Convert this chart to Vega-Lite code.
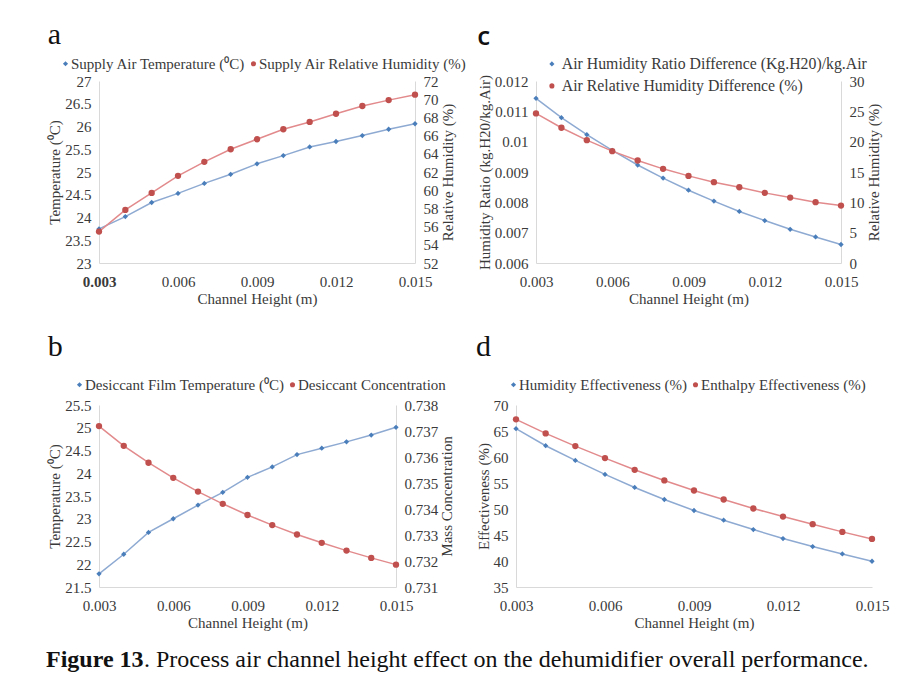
{
  "$schema": "https://vega.github.io/schema/vega-lite/v6.json",
  "background": "white",
  "padding": {"left": 46, "top": 20, "right": 10, "bottom": 4},
  "datasets": {
    "a": [
      {"h": 0.003, "t": 23.75, "rh": 55.45},
      {"h": 0.004, "t": 24.02, "rh": 57.83},
      {"h": 0.005, "t": 24.33, "rh": 59.7},
      {"h": 0.006, "t": 24.53, "rh": 61.58},
      {"h": 0.007, "t": 24.75, "rh": 63.12},
      {"h": 0.008, "t": 24.95, "rh": 64.5},
      {"h": 0.009, "t": 25.18, "rh": 65.6},
      {"h": 0.010, "t": 25.36, "rh": 66.7},
      {"h": 0.011, "t": 25.55, "rh": 67.5},
      {"h": 0.012, "t": 25.67, "rh": 68.4},
      {"h": 0.013, "t": 25.8, "rh": 69.25},
      {"h": 0.014, "t": 25.94, "rh": 69.9},
      {"h": 0.015, "t": 26.06, "rh": 70.5}
    ],
    "b": [
      {"h": 0.003, "t": 21.79, "c": 0.73719},
      {"h": 0.004, "t": 22.22, "c": 0.73643},
      {"h": 0.005, "t": 22.7, "c": 0.73578},
      {"h": 0.006, "t": 23.0, "c": 0.7352},
      {"h": 0.007, "t": 23.3, "c": 0.73467},
      {"h": 0.008, "t": 23.58, "c": 0.7342},
      {"h": 0.009, "t": 23.91, "c": 0.73377},
      {"h": 0.010, "t": 24.14, "c": 0.73338},
      {"h": 0.011, "t": 24.41, "c": 0.73302},
      {"h": 0.012, "t": 24.55, "c": 0.7327},
      {"h": 0.013, "t": 24.69, "c": 0.7324},
      {"h": 0.014, "t": 24.84, "c": 0.73212},
      {"h": 0.015, "t": 25.01, "c": 0.73186}
    ],
    "c": [
      {"h": 0.003, "w": 0.01143, "rh": 24.66},
      {"h": 0.004, "w": 0.01079, "rh": 22.29},
      {"h": 0.005, "w": 0.01023, "rh": 20.25},
      {"h": 0.006, "w": 0.00971, "rh": 18.44},
      {"h": 0.007, "w": 0.00923, "rh": 16.9},
      {"h": 0.008, "w": 0.0088, "rh": 15.52},
      {"h": 0.009, "w": 0.0084, "rh": 14.36},
      {"h": 0.010, "w": 0.00804, "rh": 13.32},
      {"h": 0.011, "w": 0.0077, "rh": 12.49},
      {"h": 0.012, "w": 0.0074, "rh": 11.56},
      {"h": 0.013, "w": 0.00711, "rh": 10.79},
      {"h": 0.014, "w": 0.00686, "rh": 10.02},
      {"h": 0.015, "w": 0.00661, "rh": 9.47}
    ],
    "d": [
      {"h": 0.003, "hum": 65.44, "ent": 67.24},
      {"h": 0.004, "hum": 62.17, "ent": 64.54},
      {"h": 0.005, "hum": 59.34, "ent": 62.1},
      {"h": 0.006, "hum": 56.65, "ent": 59.79},
      {"h": 0.007, "hum": 54.14, "ent": 57.54},
      {"h": 0.008, "hum": 51.83, "ent": 55.49},
      {"h": 0.009, "hum": 49.71, "ent": 53.56},
      {"h": 0.010, "hum": 47.85, "ent": 51.83},
      {"h": 0.011, "hum": 46.05, "ent": 50.1},
      {"h": 0.012, "hum": 44.31, "ent": 48.55},
      {"h": 0.013, "hum": 42.77, "ent": 47.08},
      {"h": 0.014, "hum": 41.36, "ent": 45.6},
      {"h": 0.015, "hum": 39.95, "ent": 44.25}
    ]
  },
  "vconcat": [
    {
      "vconcat": [
        {
          "hconcat": [
            {
              "title": {"text": "a", "offset": 6},
              "width": 316,
              "height": 182,
              "data": {"name": "a"},
              "encoding": {
                "x": {"field": "h", "type": "quantitative", "title": "Channel Height (m)",
                  "scale": {"domain": [0.003, 0.015], "nice": false, "zero": false},
                  "axis": {"values": [0.003, 0.006, 0.009, 0.012, 0.015], "format": ".3f",
                    "labelFontWeight": {"condition": {"test": "datum.value < 0.0035", "value": "bold"}, "value": "normal"}}}
              },
              "layer": [
                {
                  "encoding": {"y": {"field": "t", "type": "quantitative", "title": "Temperature (⁰C)",
                    "scale": {"domain": [23, 27], "zero": false, "nice": false},
                    "axis": {"values": [23, 23.5, 24, 24.5, 25, 25.5, 26, 26.5, 27], "format": "~g"}}},
                  "layer": [
                    {"mark": {"type": "line", "color": "#8eaad2", "strokeWidth": 1.5}},
                    {"mark": {"type": "point", "filled": true, "size": 28, "opacity": 1},
                      "encoding": {
                        "color": {"datum": "Supply Air Temperature (⁰C)", "type": "nominal",
                          "scale": {"domain": ["Supply Air Temperature (⁰C)", "Supply Air Relative Humidity (%)"], "range": ["#4a7ebb", "#c0504d"]},
                          "legend": {"orient": "none", "legendX": -41, "legendY": -25, "direction": "horizontal", "title": null}},
                        "shape": {"datum": "Supply Air Temperature (⁰C)", "type": "nominal",
                          "scale": {"domain": ["Supply Air Temperature (⁰C)", "Supply Air Relative Humidity (%)"], "range": ["diamond", "circle"]},
                          "legend": {"orient": "none", "legendX": -41, "legendY": -25, "direction": "horizontal", "title": null}}
                      }}
                  ]
                },
                {
                  "encoding": {"y": {"field": "rh", "type": "quantitative", "title": "Relative Humidity (%)",
                    "scale": {"domain": [52, 72], "zero": false, "nice": false},
                    "axis": {"orient": "right", "values": [52, 54, 56, 58, 60, 62, 64, 66, 68, 70, 72], "titleAngle": 270, "titleBaseline": "top"}}},
                  "layer": [
                    {"mark": {"type": "line", "color": "#e28a8c", "strokeWidth": 1.5}},
                    {"mark": {"type": "point", "filled": true, "size": 40, "opacity": 1},
                      "encoding": {
                        "color": {"datum": "Supply Air Relative Humidity (%)", "type": "nominal"},
                        "shape": {"datum": "Supply Air Relative Humidity (%)", "type": "nominal"}
                      }}
                  ]
                }
              ],
              "resolve": {"scale": {"y": "independent"}}
            },
            {
              "title": {"text": "c", "font": "Open Sans", "fontWeight": 600, "fontSize": 26, "offset": 6},
              "width": 305,
              "height": 182,
              "data": {"name": "c"},
              "encoding": {
                "x": {"field": "h", "type": "quantitative", "title": "Channel Height (m)",
                  "scale": {"domain": [0.003, 0.015], "nice": false, "zero": false},
                  "axis": {"values": [0.003, 0.006, 0.009, 0.012, 0.015], "format": ".3f"}}
              },
              "layer": [
                {
                  "encoding": {"y": {"field": "w", "type": "quantitative", "title": "Humidity Ratio (kg.H20/kg.Air)",
                    "scale": {"domain": [0.006, 0.012], "zero": false, "nice": false},
                    "axis": {"values": [0.006, 0.007, 0.008, 0.009, 0.01, 0.011, 0.012], "format": "~g"}}},
                  "layer": [
                    {"mark": {"type": "line", "color": "#8eaad2", "strokeWidth": 1.5}},
                    {"mark": {"type": "point", "filled": true, "size": 28, "opacity": 1},
                      "encoding": {
                        "color": {"datum": "Air Humidity Ratio Difference (Kg.H20)/kg.Air", "type": "nominal",
                          "scale": {"domain": ["Air Humidity Ratio Difference (Kg.H20)/kg.Air", "Air Relative Humidity Difference (%)"], "range": ["#4a7ebb", "#c0504d"]},
                          "legend": {"orient": "none", "legendX": 8, "legendY": -25, "direction": "vertical", "title": null, "labelFontSize": 15.8, "rowPadding": 5, "labelOffset": 2}},
                        "shape": {"datum": "Air Humidity Ratio Difference (Kg.H20)/kg.Air", "type": "nominal",
                          "scale": {"domain": ["Air Humidity Ratio Difference (Kg.H20)/kg.Air", "Air Relative Humidity Difference (%)"], "range": ["diamond", "circle"]},
                          "legend": {"orient": "none", "legendX": 8, "legendY": -25, "direction": "vertical", "title": null, "labelFontSize": 15.8, "rowPadding": 5, "labelOffset": 2}}
                      }}
                  ]
                },
                {
                  "encoding": {"y": {"field": "rh", "type": "quantitative", "title": "Relative Humidity (%)",
                    "scale": {"domain": [0, 30], "zero": false, "nice": false},
                    "axis": {"orient": "right", "values": [0, 5, 10, 15, 20, 25, 30], "titleAngle": 270, "titleBaseline": "top"}}},
                  "layer": [
                    {"mark": {"type": "line", "color": "#e28a8c", "strokeWidth": 1.5}},
                    {"mark": {"type": "point", "filled": true, "size": 40, "opacity": 1},
                      "encoding": {
                        "color": {"datum": "Air Relative Humidity Difference (%)", "type": "nominal"},
                        "shape": {"datum": "Air Relative Humidity Difference (%)", "type": "nominal"}
                      }}
                  ]
                }
              ],
              "resolve": {"scale": {"y": "independent"}}
            }
          ],
          "spacing": 121,
          "bounds": "flush",
          "resolve": {"scale": {"color": "independent", "shape": "independent"}}
        },
        {
          "hconcat": [
            {
              "title": {"text": "b", "offset": 15},
              "width": 297,
              "height": 182,
              "data": {"name": "b"},
              "encoding": {
                "x": {"field": "h", "type": "quantitative", "title": "Channel Height (m)",
                  "scale": {"domain": [0.003, 0.015], "nice": false, "zero": false},
                  "axis": {"values": [0.003, 0.006, 0.009, 0.012, 0.015], "format": ".3f"}}
              },
              "layer": [
                {
                  "encoding": {"y": {"field": "t", "type": "quantitative", "title": "Temperature (⁰C)",
                    "scale": {"domain": [21.5, 25.5], "zero": false, "nice": false},
                    "axis": {"values": [21.5, 22, 22.5, 23, 23.5, 24, 24.5, 25, 25.5], "format": "~g"}}},
                  "layer": [
                    {"mark": {"type": "line", "color": "#8eaad2", "strokeWidth": 1.5}},
                    {"mark": {"type": "point", "filled": true, "size": 28, "opacity": 1},
                      "encoding": {
                        "color": {"datum": "Desiccant Film Temperature (⁰C)", "type": "nominal",
                          "scale": {"domain": ["Desiccant Film Temperature (⁰C)", "Desiccant Concentration"], "range": ["#4a7ebb", "#c0504d"]},
                          "legend": {"orient": "none", "legendX": -27, "legendY": -28, "direction": "horizontal", "title": null}},
                        "shape": {"datum": "Desiccant Film Temperature (⁰C)", "type": "nominal",
                          "scale": {"domain": ["Desiccant Film Temperature (⁰C)", "Desiccant Concentration"], "range": ["diamond", "circle"]},
                          "legend": {"orient": "none", "legendX": -27, "legendY": -28, "direction": "horizontal", "title": null}}
                      }}
                  ]
                },
                {
                  "encoding": {"y": {"field": "c", "type": "quantitative", "title": "Mass Concentration",
                    "scale": {"domain": [0.731, 0.738], "zero": false, "nice": false},
                    "axis": {"orient": "right", "values": [0.731, 0.732, 0.733, 0.734, 0.735, 0.736, 0.737, 0.738], "format": ".3f", "titleAngle": 270, "titleBaseline": "top"}}},
                  "layer": [
                    {"mark": {"type": "line", "color": "#e28a8c", "strokeWidth": 1.5}},
                    {"mark": {"type": "point", "filled": true, "size": 40, "opacity": 1},
                      "encoding": {
                        "color": {"datum": "Desiccant Concentration", "type": "nominal"},
                        "shape": {"datum": "Desiccant Concentration", "type": "nominal"}
                      }}
                  ]
                }
              ],
              "resolve": {"scale": {"y": "independent"}}
            },
            {
              "title": {"text": "d", "offset": 15},
              "width": 356,
              "height": 182,
              "data": {"name": "d"},
              "encoding": {
                "x": {"field": "h", "type": "quantitative", "title": "Channel Height (m)",
                  "scale": {"domain": [0.003, 0.015], "nice": false, "zero": false},
                  "axis": {"values": [0.003, 0.006, 0.009, 0.012, 0.015], "format": ".3f"}}
              },
              "layer": [
                {
                  "encoding": {"y": {"field": "hum", "type": "quantitative", "title": "Effectiveness (%)",
                    "scale": {"domain": [35, 70], "zero": false, "nice": false},
                    "axis": {"values": [35, 40, 45, 50, 55, 60, 65, 70], "labelOverlap": false}}},
                  "layer": [
                    {"mark": {"type": "line", "color": "#8eaad2", "strokeWidth": 1.5}},
                    {"mark": {"type": "point", "filled": true, "size": 28, "opacity": 1},
                      "encoding": {
                        "color": {"datum": "Humidity Effectiveness (%)", "type": "nominal",
                          "scale": {"domain": ["Humidity Effectiveness (%)", "Enthalpy Effectiveness (%)"], "range": ["#4a7ebb", "#c0504d"]},
                          "legend": {"orient": "none", "legendX": -10, "legendY": -28, "direction": "horizontal", "title": null}},
                        "shape": {"datum": "Humidity Effectiveness (%)", "type": "nominal",
                          "scale": {"domain": ["Humidity Effectiveness (%)", "Enthalpy Effectiveness (%)"], "range": ["diamond", "circle"]},
                          "legend": {"orient": "none", "legendX": -10, "legendY": -28, "direction": "horizontal", "title": null}}
                      }}
                  ]
                },
                {
                  "encoding": {"y": {"field": "ent", "type": "quantitative", "title": "Effectiveness (%)",
                    "scale": {"domain": [35, 70], "zero": false, "nice": false},
                    "axis": {"values": [35, 40, 45, 50, 55, 60, 65, 70], "labelOverlap": false}}},
                  "layer": [
                    {"mark": {"type": "line", "color": "#e28a8c", "strokeWidth": 1.5}},
                    {"mark": {"type": "point", "filled": true, "size": 40, "opacity": 1},
                      "encoding": {
                        "color": {"datum": "Enthalpy Effectiveness (%)", "type": "nominal"},
                        "shape": {"datum": "Enthalpy Effectiveness (%)", "type": "nominal"}
                      }}
                  ]
                }
              ]
            }
          ],
          "spacing": 120,
          "bounds": "flush",
          "resolve": {"scale": {"color": "independent", "shape": "independent"}}
        }
      ],
      "spacing": 26,
      "resolve": {"scale": {"color": "independent", "shape": "independent"}}
    },
    {
      "hconcat": [
        {
          "title": {"text": "Figure 13", "fontSize": 24, "fontWeight": "bold", "offset": 0, "dx": -53},
          "width": 1,
          "height": 1,
          "data": {"values": []},
          "mark": "point"
        },
        {
          "title": {"text": ". Process air channel height effect on the dehumidifier overall performance.", "fontSize": 24, "fontWeight": "normal", "offset": 0, "dx": -53},
          "width": 1,
          "height": 1,
          "data": {"values": []},
          "mark": "point"
        }
      ],
      "spacing": 0
    }
  ],
  "spacing": 18,
  "resolve": {"scale": {"color": "independent", "shape": "independent"}},
  "config": {
    "font": "Liberation Serif",
    "view": {"stroke": null},
    "title": {"font": "Liberation Serif", "fontSize": 30, "fontWeight": "normal", "anchor": "start", "frame": "bounds", "color": "#111111", "offset": 4},
    "axis": {
      "labelFont": "Liberation Serif", "titleFont": "Liberation Serif",
      "labelFontSize": 15, "titleFontSize": 15,
      "labelColor": "#3a3a3a", "titleColor": "#3a3a3a", "titleFontWeight": "normal",
      "grid": false, "ticks": false, "domainColor": "#d9d9d9", "labelPadding": 8, "titlePadding": 2,
      "labelFlush": false
    },
    "axisX": {"labelPadding": 11},
    "legend": {
      "labelFont": "Liberation Serif", "labelFontSize": 15, "labelColor": "#3a3a3a",
      "symbolSize": 26, "labelOffset": -2, "columnPadding": 0, "rowPadding": 6, "padding": 0, "labelLimit": 400
    }
  }
}
